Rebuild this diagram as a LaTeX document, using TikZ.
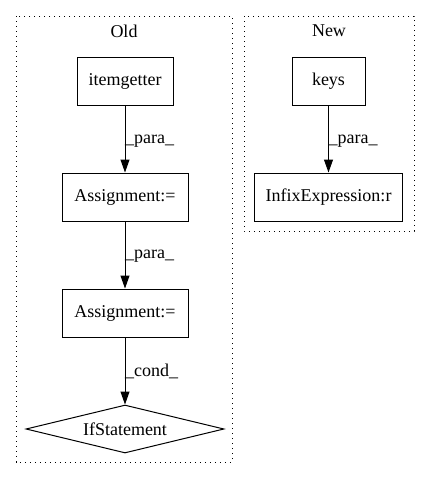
\documentclass[tikz,border=0pt]{standalone}
\usepackage{fontspec}
\setmainfont{Liberation Serif}
\usetikzlibrary{arrows.meta,shapes.geometric}
\begin{document}
\begin{tikzpicture}[x=1pt,y=-1pt,
  every node/.style={font=\fontsize{18}{21}\selectfont},
  box/.style={draw,line width=1pt,rectangle,inner sep=0pt},
  dia/.style={draw,line width=1pt,diamond,aspect=4.1,inner sep=0pt},
  cluster/.style={draw,line width=1pt,dash pattern=on 1.3pt off 3.7pt},
  edge/.style={draw,line width=1pt,-{Triangle[length=13pt,width=9pt]}},
  elabel/.style={anchor=west,inner sep=0pt}]
\useasboundingbox (0,0) rectangle (429,480);
% clusters
\draw[cluster] (16,16) rectangle (232,462);
\draw[cluster] (244,16) rectangle (414,231);
\node (oldlbl) at (124,31) {Old};
\node (newlbl) at (329,31) {New};
% nodes
\node[box,minimum width=96pt,minimum height=48pt] (ig) at (125,81) {itemgetter};
\node[box,minimum width=126pt,minimum height=48pt] (a1) at (125,197) {Assignment:=};
\node[box,minimum width=126pt,minimum height=48pt] (a2) at (125,313) {Assignment:=};
\node[dia,minimum width=198pt,minimum height=48pt] (if) at (125,429) {IfStatement};
\node[box,minimum width=73pt,minimum height=48pt] (keys) at (328.5,81) {keys};
\node[box,minimum width=148pt,minimum height=48pt] (inf) at (328.5,197) {InfixExpression:r};
% edges
\draw[edge] (ig) -- (a1);
\draw[edge] (a1) -- (a2);
\draw[edge] (a2) -- (if.north);
\draw[edge] (keys) -- (inf);
% edge labels
\node[elabel] (l1) at (125,141) {\_para\_};
\node[elabel] (l2) at (125,256) {\_para\_};
\node[elabel] (l3) at (125,371) {\_cond\_};
\node[elabel] (l4) at (328.5,141) {\_para\_};
\end{tikzpicture}
\end{document}
